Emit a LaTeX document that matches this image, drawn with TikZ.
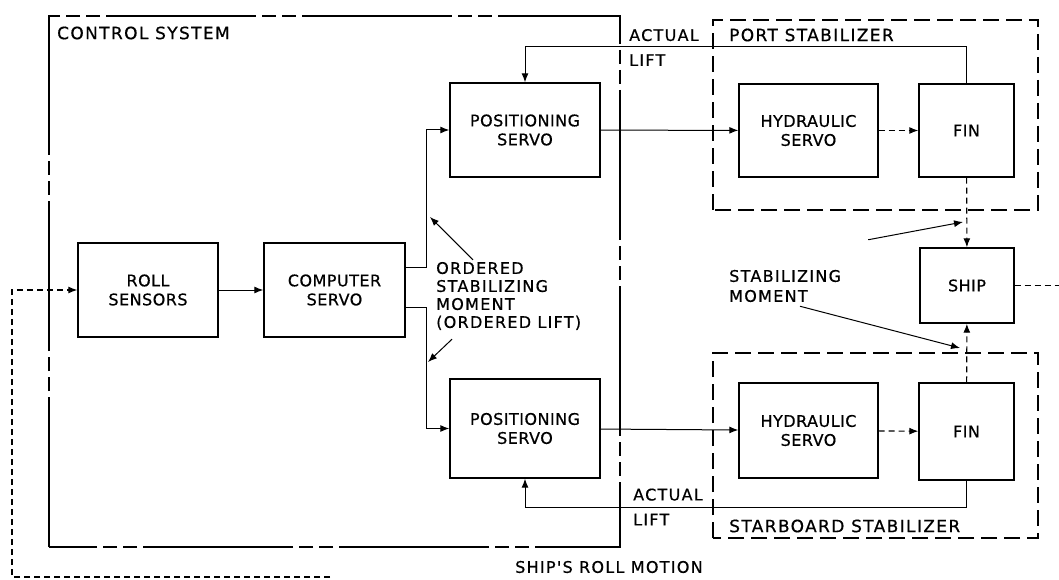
\documentclass[tikz,border=0pt]{standalone}
\usepackage{fontspec}
\setmainfont{DejaVu Sans}
\newfontfamily\lblfont[LetterSpace=8,FakeBold=0.6]{DejaVu Sans}
\newfontfamily\boxfont[LetterSpace=3,FakeBold=0.6]{DejaVu Sans}
\usetikzlibrary{positioning,arrows.meta}

\begin{document}
\begin{tikzpicture}[x=1pt,y=1pt,
  blk/.style={rectangle,draw,line width=1.4pt,align=center,inner sep=0pt,
    font=\boxfont\fontsize{16}{19}\selectfont},
  lbl/.style={anchor=west,align=left,inner sep=0pt,
    font=\lblfont\fontsize{16}{18}\selectfont},
  ttl/.style={anchor=west,inner sep=0pt,font=\lblfont\fontsize{17}{20}\selectfont},
  sys/.style={line width=2.8pt,dash pattern=on 150pt off 6pt on 14pt off 6pt on 14pt off 6pt},
  stab/.style={line width=2.8pt,dash pattern=on 16pt off 7pt},
  sig/.style={line width=1pt,-{Latex[length=9pt,width=7pt]}},
  fb/.style={line width=1.1pt,dash pattern=on 6pt off 4pt}]

\useasboundingbox (0,0) rectangle (1059,579);

\draw[sys] (49,32) rectangle (620,563);
\draw[stab] (713,369) rectangle (1038,559);
\draw[stab] (713,41) rectangle (1038,226);

\node (cs) [ttl] at (57,546) {CONTROL SYSTEM};
\node (ps) [ttl] at (729,544) {PORT STABILIZER};
\node (ss) [ttl] at (729,53) {STARBOARD STABILIZER};

\node (roll) [blk,minimum width=140pt,minimum height=94pt] at (148,289) {ROLL\\SENSORS};
\node (comp) [blk,minimum width=141pt,minimum height=94pt] at (334.5,289) {COMPUTER\\SERVO};
\node (post) [blk,minimum width=150pt,minimum height=94pt] at (525,449) {POSITIONING\\SERVO};
\node (posb) [blk,minimum width=150pt,minimum height=99pt] at (525,150.5) {POSITIONING\\SERVO};
\node (hydt) [blk,minimum width=139pt,minimum height=93pt] at (808.5,448.5) {HYDRAULIC\\SERVO};
\node (fint) [blk,minimum width=95pt,minimum height=93pt] at (966.5,448.5) {FIN};
\node (ship) [blk,minimum width=94pt,minimum height=75pt] at (967,293.5) {SHIP};
\node (hydb) [blk,minimum width=139pt,minimum height=95pt] at (808.5,148.5) {HYDRAULIC\\SERVO};
\node (finb) [blk,minimum width=95pt,minimum height=97pt] at (966.5,147.5) {FIN};

\node (liftt) [lbl,font=\lblfont\fontsize{16}{25}\selectfont] at (629,531.5) {ACTUAL\\LIFT};
\node (liftb) [lbl,font=\lblfont\fontsize{16}{25}\selectfont] at (633,72) {ACTUAL\\LIFT};
\node (ordl) [lbl] at (436,283) {ORDERED\\STABILIZING\\MOMENT\\(ORDERED LIFT)};
\node (stbl) [lbl,font=\lblfont\fontsize{16}{20}\selectfont] at (729,293) {STABILIZING\\MOMENT};
\node (rmot) [lbl] at (515,12) {SHIP'S ROLL MOTION};

\draw[sig] (roll) -- (comp);
\draw[sig] ([yshift=23pt]comp.east) -- ++(21,0) |- (post);
\draw[sig] ([yshift=-17pt]comp.east) -- ++(21,0) |- (posb);
\draw[sig] (post) -- (hydt);
\draw[sig,fb] (hydt) -- (fint);
\draw[sig] (posb) -- (hydb);
\draw[sig,fb] (hydb) -- (finb);
\draw[sig,fb] (fint) -- (ship);
\draw[sig,fb] (finb) -- (ship);
\draw[sig] (fint.north) -- ++(0,37) -| (post.north);
\draw[sig] (finb.south) -- ++(0,-27) -| (posb.south);

\coordinate (rmout) at (1059,293.5);
\coordinate (rmin) at (12,2);
\coordinate (rmend) at (330,2);
\draw[fb] (ship) -- (rmout);
\draw[fb,-{Latex[length=9pt,width=7pt]}] (rmend) -- (rmin) |- (roll.west);

\coordinate (oup) at (430,362);
\coordinate (olo) at (428,217);
\draw[sig] ([xshift=37pt,yshift=2pt]ordl.north west) -- (oup);
\draw[sig] ([xshift=16pt,yshift=-9pt]ordl.south west) -- (olo);

\coordinate (smt) at (963,357);
\coordinate (smb) at (960,231);
\draw[sig] ([xshift=27pt,yshift=30pt]stbl.north east) -- (smt);
\draw[sig] ([xshift=71pt,yshift=-4pt]stbl.south west) -- (smb);

\end{tikzpicture}
\end{document}
